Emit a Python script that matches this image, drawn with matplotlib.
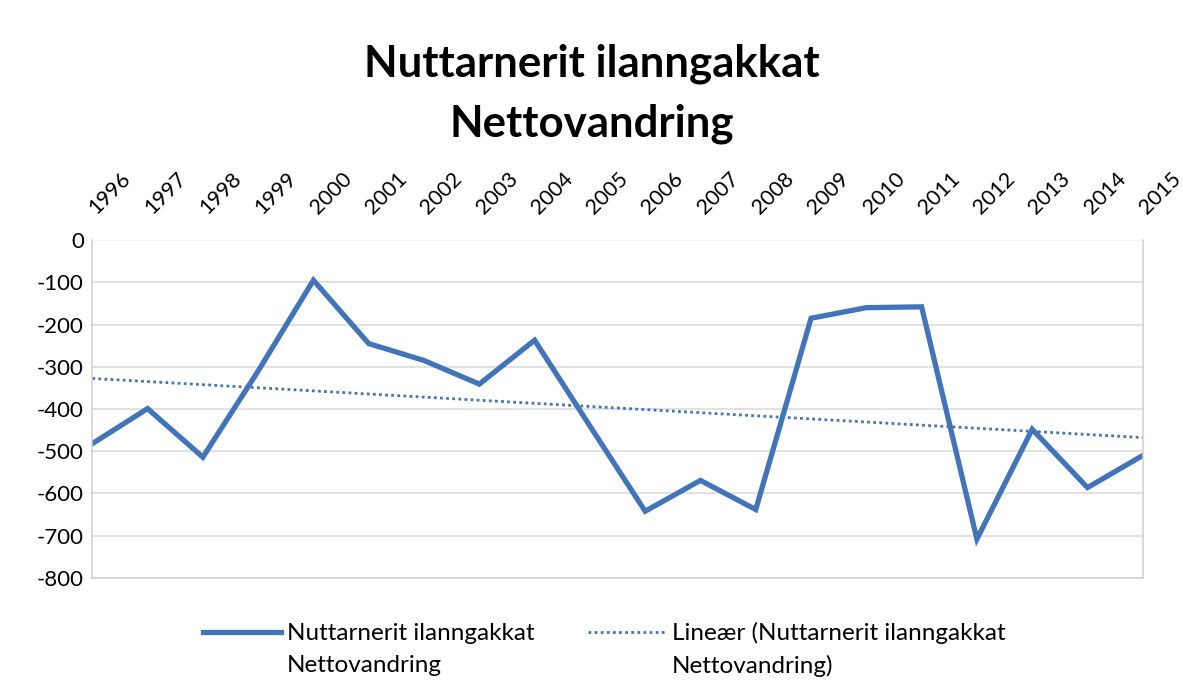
import numpy as np
import matplotlib.pyplot as plt

plt.rcParams['font.family'] = ['Lato', 'DejaVu Sans']

# Data
years = [str(y) for y in range(1996, 2016)]
netto = [-482, -399, -514, -310, -95, -245, -285, -341, -237, -440,
         -642, -569, -638, -185, -160, -158, -708, -448, -586, -510]
yticks = [0, -100, -200, -300, -400, -500, -600, -700, -800]

title = "Nuttarnerit ilanngakkat\nNettovandring"
series_label = ["Nuttarnerit ilanngakkat", "Nettovandring"]
trend_label = ["Lineær (Nuttarnerit ilanngakkat", "Nettovandring)"]

blue = '#4274ba'

fig = plt.figure(figsize=(11.83, 6.98), dpi=100)
ax = fig.add_axes([0.078, 0.172, 0.888, 0.484])

x = np.arange(len(years))
ax.plot(x, netto, color=blue, lw=3.8, solid_joinstyle='miter', label=series_label[0])

# linear trendline, like Excel's
k, b = np.polyfit(x, netto, 1)
ax.plot(x, k * x + b, color=blue, lw=2.0, ls=(0, (1, 1.2)), label=trend_label[0])

ax.set_xlim(0, len(years) - 1)
ax.set_ylim(-800, 0)
ax.set_yticks(yticks)
ax.set_yticklabels([str(v) for v in yticks], fontsize=16)
ax.grid(axis='y', color='#d9d9d9', lw=1.1)
ax.set_axisbelow(True)
# the line at 0 is barely visible in the original
ax.get_ygridlines()[0].set_color('#efefef')

ax.xaxis.tick_top()
ax.set_xticks(x)
ax.set_xticklabels(years, fontsize=15.5, rotation=45, ha='left', va='center',
                   rotation_mode='anchor')
ax.tick_params(axis='both', length=0)
ax.tick_params(axis='x', pad=21)
ax.tick_params(axis='y', pad=6)

for s in ['left', 'right', 'bottom']:
    ax.spines[s].set_color('#d0d0d0')
    ax.spines[s].set_linewidth(1.1)
ax.spines['top'].set_visible(False)

fig.text(0.5, 0.866, title, ha='center', va='center', fontsize=31.5,
         fontweight='bold', linespacing=1.6)

# legend: handles sit on the first line of each label, second line below
leg = fig.legend(loc='center', bbox_to_anchor=(0.511, 0.093), ncol=2, frameon=False,
                 fontsize=17.5, handlelength=3.2, columnspacing=2.2, handletextpad=0.25)
fig.canvas.draw()
inv = fig.transFigure.inverted()
for txt, lines in zip(leg.get_texts(), [series_label, trend_label]):
    bb = txt.get_window_extent()
    x0, y0 = inv.transform((bb.x0, bb.y0))
    fig.text(x0, y0 - 0.016, lines[1], ha='left', va='top', fontsize=17.5)

fig.savefig('out.png', dpi=100)
